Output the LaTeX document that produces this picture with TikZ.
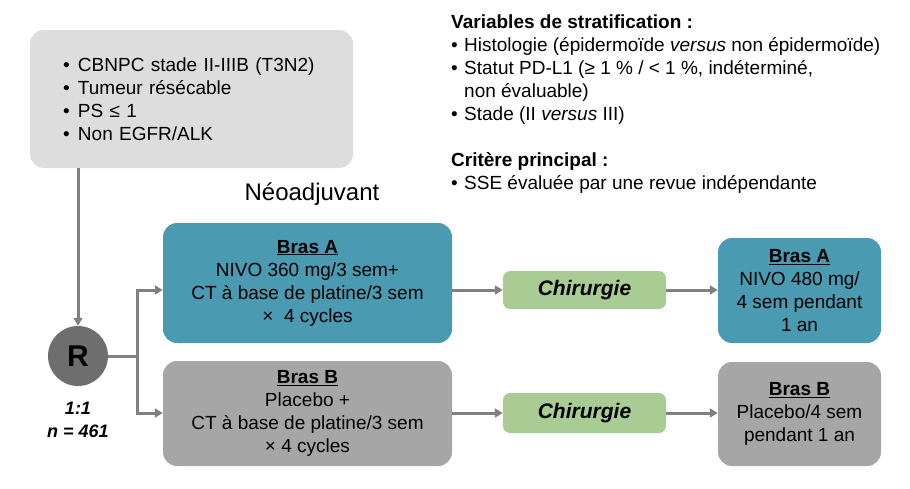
\documentclass[tikz,border=0pt]{standalone}
\usepackage{fontspec}
\setmainfont{Liberation Sans}
\usetikzlibrary{arrows.meta}
\definecolor{boxgrey}{HTML}{DDDDDD}
\definecolor{teal1}{HTML}{4A9BB1}
\definecolor{greyB}{HTML}{A6A6A6}
\definecolor{rgrey}{HTML}{6E6E6E}
\definecolor{green1}{HTML}{A9CC94}
\definecolor{linegrey}{HTML}{808080}
\newcommand\bitem{\makebox[15pt][l]{\textbullet}}
\newcommand\bitemr{\makebox[13pt][l]{\textbullet}}
\tikzset{
  txt/.style={font=\fontsize{19}{23}\selectfont, align=center, inner sep=0pt},
  rbox/.style={rounded corners=14pt, draw=none, inner sep=0pt, txt},
  conn/.style={draw=linegrey, line width=3pt, -{Triangle[length=8pt,width=9pt]}},
  plain/.style={draw=linegrey, line width=3pt},
}
\begin{document}
\begin{tikzpicture}[x=1pt,y=-1pt]
\useasboundingbox (0,0) rectangle (910,488);
% inclusion box
\node[rbox, fill=boxgrey, minimum width=323pt, minimum height=138pt, text width=257pt, align=left] (incl) at (191.5,99)
  {\bitem CBNPC stade II-IIIB (T3N2)\\
   \bitem Tumeur résécable\\
   \bitem PS ≤ 1\\
   \bitem Non EGFR/ALK};
% stratification text
\node[txt, align=left, anchor=base west] (strat) at (451,189)
  {\textbf{Variables de stratification :}\\
   \bitemr Histologie (épidermoïde \textit{versus} non épidermoïde)\\
   \bitemr Statut PD-L1 (≥ 1 \% / < 1 \%, indéterminé,\\
   \hspace*{13pt}non évaluable)\\
   \bitemr Stade (II \textit{versus} III)\\[23pt]
   \textbf{Critère principal :}\\
   \bitemr SSE évaluée par une revue indépendante};
% Neoadjuvant
\node[inner sep=0pt, font=\fontsize{24}{28}\selectfont] (neo) at (312,194) {Néoadjuvant};
% R circle
\node[circle, fill=rgrey, minimum size=60pt, inner sep=0pt, font=\fontsize{30}{34}\selectfont\bfseries] (R) at (78,356) {R};
\node[txt, font=\fontsize{18}{23}\selectfont\bfseries\itshape] (ratio) at (78,420) {1:1\\n = 461};
% arm boxes
\node[rbox, fill=teal1, minimum width=289pt, minimum height=120pt] (A) at (307.5,283)
  {\underline{\textbf{Bras A}}\\NIVO 360 mg/3 sem+\\CT à base de platine/3 sem\\×~ 4 cycles};
\node[rbox, fill=greyB, minimum width=289pt, minimum height=105pt] (B) at (307.5,413.5)
  {\underline{\textbf{Bras B}}\\Placebo +\\CT à base de platine/3 sem\\× 4 cycles};
% surgery
\node[rbox, rounded corners=7pt, fill=green1, minimum width=163pt, minimum height=38pt, font=\fontsize{21}{25}\selectfont\bfseries\itshape] (chirA) at (584.5,290) {Chirurgie};
\node[rbox, rounded corners=7pt, fill=green1, minimum width=163pt, minimum height=40pt, font=\fontsize{21}{25}\selectfont\bfseries\itshape] (chirB) at (584.5,413) {Chirurgie};
% adjuvant
\node[rbox, fill=teal1, minimum width=163pt, minimum height=105pt] (RA) at (799.5,290.5)
  {\underline{\textbf{Bras A}}\\NIVO 480 mg/\\4 sem pendant\\1 an};
\node[rbox, fill=greyB, minimum width=163pt, minimum height=104pt] (RB) at (799.5,414)
  {\underline{\textbf{Bras B}}\\Placebo/4 sem\\pendant 1 an};
% connectors
\coordinate (split) at (137,356);
\draw[conn] (incl.south -| R.north) -- (R.north);
\draw[plain] (R.east) -- (split);
\draw[conn] (split) |- (A.west |- chirA.west);
\draw[conn] (split) |- (B.west |- chirB.west);
\draw[conn] (A.east |- chirA.west) -- (chirA.west);
\draw[conn] (B.east |- chirB.west) -- (chirB.west);
\draw[conn] (chirA.east) -- (RA.west |- chirA.east);
\draw[conn] (chirB.east) -- (RB.west |- chirB.east);
\end{tikzpicture}
\end{document}
